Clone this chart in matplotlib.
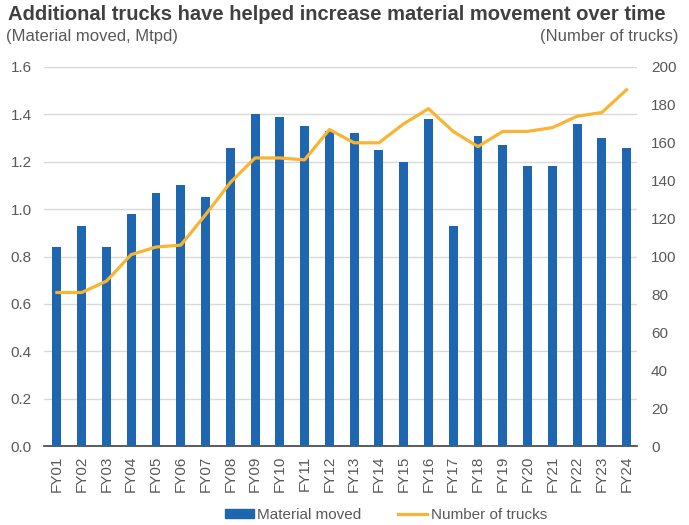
import matplotlib
matplotlib.use("Agg")
import matplotlib.pyplot as plt
from matplotlib.patches import Patch
from matplotlib.lines import Line2D

plt.rcParams['font.family'] = ['Liberation Sans', 'DejaVu Sans']

years = [f"FY{i:02d}" for i in range(1, 25)]
material = [0.84, 0.93, 0.84, 0.98, 1.07, 1.10, 1.05, 1.26, 1.40, 1.39, 1.35, 1.33,
            1.32, 1.25, 1.20, 1.38, 0.93, 1.31, 1.27, 1.18, 1.18, 1.36, 1.30, 1.26]
trucks = [81, 81, 87, 101, 105, 106, 122, 139, 152, 152, 151, 167,
          160, 160, 170, 178, 166, 158, 166, 166, 168, 174, 176, 188]

bar_color = '#1f66b0'
line_color = '#f8b432'
txt = '#595959'

fig = plt.figure(figsize=(6.89, 5.25), dpi=100)
ax = fig.add_axes([44/689, 1-446/525, (637-44)/689, (446-67)/525])
ax2 = ax.twinx()

x = list(range(len(years)))
ax.bar(x, material, width=0.36, color=bar_color, zorder=3)
ax.set_ylim(0, 1.6)
ax.set_yticks([i * 0.2 for i in range(9)])
ax.set_yticklabels([f"{i*0.2:.1f}" for i in range(9)])
ax.set_xlim(-0.52, 23.42)
ax.set_xticks(x)
ax.set_xticklabels(years, rotation=90)
ax.grid(axis='y', color='#d9d9d9', linewidth=1, zorder=0)
ax.set_axisbelow(True)

ax2.plot(x, trucks, color=line_color, linewidth=2.3, zorder=4, solid_joinstyle='round')
ax2.set_ylim(0, 200)
ax2.set_yticks(range(0, 201, 20))

for a in (ax, ax2):
    for s in ['top', 'right', 'left', 'bottom']:
        a.spines[s].set_visible(False)
    a.tick_params(length=0, labelsize=11, colors=txt)
ax.spines['bottom'].set_visible(True)
ax.spines['bottom'].set_color('#404040')
ax.spines['bottom'].set_linewidth(1.2)
ax.tick_params(axis='y', pad=9)
ax2.tick_params(axis='y', pad=10)
ax.tick_params(axis='x', pad=7)

fig.text(8/689, 1-14/525, "Additional trucks have helped increase material movement over time",
         fontsize=14.5, fontweight='bold', color='#404040', va='center', ha='left')
fig.text(6/689, 1-36/525, "(Material moved, Mtpd)", fontsize=12, color=txt, va='center', ha='left')
fig.text(679/689, 1-36/525, "(Number of trucks)", fontsize=12, color=txt, va='center', ha='right')

handles = [Patch(color=bar_color, label='Material moved'),
           Line2D([0], [0], color=line_color, linewidth=2.3, label='Number of trucks')]
fig.legend(handles=handles, loc='center', bbox_to_anchor=(386/689, 1-515/525), ncol=2,
           frameon=False, fontsize=11, labelcolor=txt, handlelength=1.9, handleheight=0.5,
           columnspacing=2.4, handletextpad=0.25)

fig.savefig('out.png', dpi=100)
